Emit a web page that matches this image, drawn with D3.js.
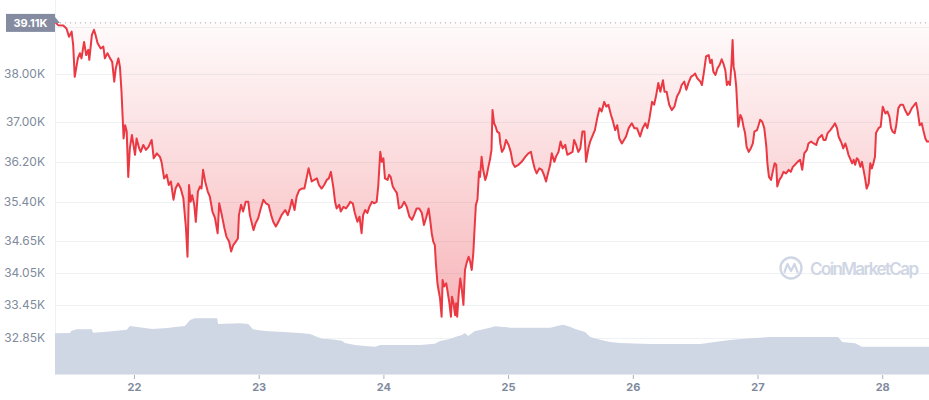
<!DOCTYPE html>
<html>
<head>
<meta charset="utf-8">
<script src="https://cdn.jsdelivr.net/npm/d3@7"></script>
<style>
  body { margin: 0; background: #fff; }
  svg { display: block; font-family: Inter, "Noto Sans", sans-serif; }
</style>
</head>
<body>
<div id="chart"></div>
<script>
// BTC price, 7 days from 21 Jan 2022; time is hours since 21 Jan 00:00
const startDay = new Date(2022, 0, 21);

const hours = [
  8.8, 9.4, 10.4, 11.0, 11.5, 12.0, 12.3, 12.6, 13.2, 13.6,
  13.9, 14.4, 14.8, 15.2, 15.4, 15.9, 16.3, 16.6, 17.0, 17.6,
  18.1, 18.4, 18.9, 19.4, 19.8, 20.2, 20.5, 21.0, 21.3, 21.6,
  21.8, 22.0, 22.3, 22.6, 22.9, 23.2, 23.6, 23.9, 24.2, 24.5,
  25.0, 25.3, 25.8, 26.3, 26.8, 27.4, 27.8, 28.4, 29.0, 29.3,
  29.8, 30.3, 30.7, 31.1, 31.6, 32.0, 32.5, 33.0, 33.5, 34.0,
  34.3, 34.6, 34.9, 35.2, 35.6, 35.9, 36.3, 36.7, 37.0, 37.3,
  37.7, 38.2, 38.6, 39.1, 39.6, 40.1, 40.4, 40.9, 41.4, 41.8,
  42.3, 42.7, 43.1, 43.6, 44.0, 44.2, 44.6, 45.0, 45.5, 46.0,
  46.3, 47.0, 47.4, 47.9, 48.4, 48.9, 49.4, 49.9, 50.4, 50.8,
  51.3, 51.8, 52.4, 53.1, 53.6, 54.0, 54.4, 54.9, 55.3, 55.8,
  56.3, 56.8, 57.2, 57.6, 57.9, 58.2, 58.7, 59.2, 59.6, 60.1,
  60.6, 61.1, 61.5, 61.9, 62.4, 62.7, 63.0, 63.5, 63.8, 64.3,
  64.8, 65.3, 65.6, 66.1, 66.5, 67.0, 67.4, 67.8, 68.1, 68.5,
  68.9, 69.3, 69.8, 70.2, 70.7, 71.0, 71.4, 71.7, 72.0, 72.3,
  72.8, 73.1, 73.4, 73.8, 74.2, 74.6, 75.0, 75.5, 76.0, 76.5,
  77.0, 77.5, 77.9, 78.4, 78.9, 79.4, 79.8, 80.2, 80.7, 81.0,
  81.3, 81.6, 81.9, 82.1, 82.4, 82.6, 82.9, 83.2, 83.4, 83.7,
  84.1, 84.3, 84.7, 85.0, 85.2, 85.5, 85.8, 86.0, 86.2, 86.5,
  86.8, 87.1, 87.4, 87.7, 88.0, 88.4, 88.7, 89.0, 89.3, 89.6,
  89.8, 90.1, 90.4, 90.6, 90.9, 91.2, 91.6, 91.9, 92.2, 92.5,
  92.8, 93.0, 93.3, 93.6, 93.9, 94.3, 94.5, 94.8, 95.2, 95.6,
  96.1, 96.5, 96.9, 97.3, 98.0, 98.6, 99.3, 99.9, 100.4, 100.7,
  101.1, 101.5, 102.0, 102.5, 102.9, 103.3, 103.6, 104.1, 104.4, 104.9,
  105.2, 105.7, 106.1, 106.5, 107.0, 107.4, 107.9, 108.4, 108.7, 109.1,
  109.5, 109.9, 110.3, 110.7, 111.0, 111.5, 111.8, 112.3, 112.7, 113.2,
  113.6, 114.0, 114.5, 114.9, 115.3, 115.8, 116.1, 116.6, 117.0, 117.4,
  117.9, 118.3, 118.7, 119.2, 119.8, 120.3, 120.8, 121.4, 121.9, 122.4,
  122.8, 123.2, 123.7, 124.1, 124.5, 124.9, 125.3, 125.8, 126.1, 126.5,
  127.0, 127.5, 128.0, 128.5, 129.0, 129.4, 129.9, 130.3, 130.7, 131.2,
  131.7, 132.0, 132.4, 133.0, 133.3, 133.7, 134.1, 134.6, 134.9, 135.2,
  135.5, 135.9, 136.3, 136.7, 137.1, 137.4, 137.8, 138.1, 138.4, 138.7,
  139.0, 139.2, 139.4, 139.6, 139.9, 140.1, 140.3, 140.7, 141.0, 141.3,
  141.6, 141.9, 142.3, 142.7, 143.1, 143.4, 143.9, 144.2, 144.5, 144.9,
  145.3, 145.7, 145.9, 146.2, 146.6, 147.0, 147.3, 147.6, 147.8, 148.2,
  148.6, 149.0, 149.5, 150.0, 150.4, 150.8, 151.2, 151.7, 152.2, 152.6,
  153.0, 153.5, 153.8, 154.3, 154.8, 155.3, 155.7, 156.1, 156.4, 156.7,
  157.1, 157.5, 158.0, 158.5, 158.9, 159.3, 159.6, 159.9, 160.2, 160.5,
  160.9, 161.2, 161.5, 161.8, 162.2, 162.5, 162.8, 163.1, 163.4, 163.8,
  164.1, 164.4, 164.7, 165.0, 165.4, 165.7, 166.0, 166.3, 166.6, 166.8,
  167.3, 167.7, 168.1, 168.6, 169.0, 169.4, 169.7, 170.0, 170.4, 170.7,
  171.1, 171.5, 172.0, 172.4, 172.9, 173.2, 173.7, 174.2, 174.5, 174.8,
  175.2, 175.6, 175.9, 176.3, 176.6, 177.0
];

// price in thousands of USD
const price = [
  39.11, 39.04, 39.03, 38.97, 38.79, 38.90, 38.61, 37.94, 38.33, 38.44,
  38.33, 38.68, 38.40, 38.51, 38.30, 38.83, 38.94, 38.83, 38.65, 38.54,
  38.58, 38.33, 38.44, 38.33, 38.26, 37.84, 38.12, 38.33, 38.15, 37.63,
  37.15, 36.67, 36.94, 36.81, 35.90, 36.47, 36.74, 36.54, 36.34, 36.67,
  36.47, 36.40, 36.54, 36.44, 36.50, 36.64, 36.27, 36.37, 36.30, 36.20,
  35.87, 35.94, 35.74, 35.81, 35.45, 35.67, 35.77, 35.67, 35.48, 34.90,
  34.35, 35.74, 35.41, 35.54, 35.35, 35.02, 35.61, 35.71, 35.67, 36.04,
  35.81, 35.61, 35.51, 35.22, 35.09, 34.80, 35.38, 35.15, 34.90, 34.73,
  34.64, 34.45, 34.57, 34.64, 34.70, 35.15, 35.35, 35.22, 35.41, 35.41,
  35.15, 34.86, 34.99, 35.09, 35.28, 35.45, 35.38, 35.35, 35.15, 35.02,
  34.93, 35.02, 35.15, 35.25, 35.15, 35.28, 35.45, 35.25, 35.51, 35.64,
  35.67, 35.67, 35.87, 36.07, 35.94, 35.81, 35.84, 35.87, 35.74, 35.67,
  35.74, 35.84, 35.87, 36.00, 35.67, 35.41, 35.28, 35.35, 35.22, 35.31,
  35.28, 35.35, 35.41, 35.38, 35.19, 35.02, 35.12, 34.80, 35.15, 35.25,
  35.19, 35.31, 35.41, 35.38, 35.41, 35.71, 36.40, 36.20, 36.27, 35.87,
  35.84, 35.94, 35.90, 35.71, 35.64, 35.58, 35.28, 35.31, 35.41, 35.31,
  35.12, 35.06, 35.15, 35.28, 35.28, 35.19, 34.96, 35.09, 35.28, 35.06,
  34.80, 34.64, 34.57, 34.23, 33.85, 33.73, 33.57, 33.23, 33.91, 33.79,
  33.85, 33.73, 33.48, 33.23, 33.60, 33.48, 33.26, 33.48, 33.23, 33.66,
  33.94, 33.73, 33.45, 34.10, 34.23, 34.35, 34.26, 34.10, 34.42, 34.99,
  35.35, 35.45, 36.00, 35.90, 36.30, 36.04, 35.84, 35.94, 36.10, 36.24,
  36.44, 37.25, 36.98, 36.91, 36.81, 36.78, 36.57, 36.40, 36.47, 36.64,
  36.54, 36.40, 36.17, 36.10, 36.14, 36.20, 36.30, 36.37, 36.40, 36.24,
  36.07, 35.97, 36.07, 36.04, 35.94, 35.81, 35.94, 36.14, 36.37, 36.20,
  36.30, 36.40, 36.61, 36.47, 36.54, 36.34, 36.37, 36.40, 36.64, 36.54,
  36.40, 36.47, 36.81, 36.81, 36.20, 36.50, 36.61, 36.74, 36.84, 37.11,
  37.29, 37.22, 37.42, 37.32, 37.36, 37.15, 37.05, 36.84, 36.94, 36.67,
  36.57, 36.64, 36.71, 36.88, 36.98, 36.88, 36.88, 36.71, 36.88, 36.98,
  36.88, 37.08, 37.42, 37.36, 37.56, 37.81, 37.63, 37.87, 37.63, 37.63,
  37.36, 37.25, 37.32, 37.53, 37.63, 37.77, 37.84, 37.67, 37.81, 37.94,
  37.98, 38.01, 37.91, 37.84, 37.77, 38.05, 38.37, 38.40, 38.23, 38.30,
  38.05, 37.98, 38.12, 38.19, 38.31, 38.23, 38.08, 37.77, 37.84, 37.77,
  38.23, 38.72, 38.15, 38.05, 37.74, 37.32, 36.91, 37.15, 37.08, 36.91,
  36.78, 36.50, 36.40, 36.47, 36.57, 36.81, 36.84, 36.94, 37.05, 37.01,
  36.88, 36.50, 36.17, 35.90, 35.84, 36.04, 36.17, 36.14, 35.71, 35.84,
  35.90, 36.00, 35.97, 36.04, 36.00, 36.10, 36.14, 36.20, 36.24, 36.04,
  36.37, 36.44, 36.57, 36.61, 36.57, 36.54, 36.67, 36.71, 36.74, 36.64,
  36.64, 36.78, 36.84, 36.91, 36.98, 36.88, 36.71, 36.64, 36.57, 36.47,
  36.57, 36.47, 36.34, 36.27, 36.17, 36.24, 36.14, 36.27, 36.24, 36.10,
  36.20, 36.04, 35.87, 35.67, 35.77, 36.17, 36.07, 36.17, 36.30, 36.78,
  36.88, 36.91, 37.32, 37.18, 37.22, 37.11, 36.88, 36.81, 36.78, 36.94,
  37.29, 37.36, 37.36, 37.25, 37.15, 37.18, 37.29, 37.36, 37.40, 37.25,
  36.94, 36.98, 36.84, 36.67, 36.61, 36.61
];

// 24h volume, billions of USD
const volHours = [
  8.8, 11.7, 11.9, 13.0, 15.9, 16.1, 18.2, 20.7, 22.6, 23.2,
  26.1, 27.5, 30.5, 31.9, 33.8, 34.8, 35.7, 40.0, 40.2, 44.4,
  46.0, 46.9, 49.2, 53.6, 55.9, 57.9, 58.8, 60.2, 62.3, 64.0,
  64.6, 66.5, 68.5, 70.4, 71.4, 79.1, 81.9, 82.9, 84.8, 85.8,
  87.1, 87.7, 88.3, 89.6, 90.6, 92.5, 93.5, 94.5, 96.4, 104.1,
  105.6, 106.6, 107.9, 108.9, 110.8, 111.8, 113.7, 115.6, 117.5, 123.3,
  133.0, 135.8, 138.7, 142.6, 146.4, 159.5, 160.3, 162.8, 164.1, 177.0
];
const volume = [
  26.0, 26.2, 27.4, 28.5, 28.5, 26.4, 26.8, 27.6, 28.3, 30.6,
  29.4, 28.7, 29.4, 30.0, 30.6, 34.5, 35.6, 35.6, 31.9, 32.4,
  31.9, 28.5, 27.4, 26.6, 26.2, 25.5, 24.3, 22.5, 22.1, 21.3,
  19.8, 18.5, 17.9, 17.4, 18.5, 18.5, 19.3, 21.1, 22.3, 23.6,
  24.9, 26.2, 24.3, 27.4, 28.1, 29.6, 30.4, 30.2, 29.6, 29.6,
  30.8, 31.5, 30.2, 28.7, 26.8, 23.6, 21.9, 20.4, 19.8, 19.1,
  19.1, 20.4, 21.7, 22.8, 23.6, 23.6, 20.4, 19.6, 17.4, 17.4
];

// log axis: gridlines, and the labels shown (39.00K sits under the open price tag)
const yGrid = [39, 38, 37, 36.2, 35.4, 34.65, 34.05, 33.45, 32.85];
const yLabels = [38, 37, 36.2, 35.4, 34.65, 34.05, 33.45, 32.85];

const width = 929, height = 400;
const plot = {left: 55, right: 929, top: 0, bottom: 374};

const toDate = h => new Date(startDay.getTime() + h * 3600e3);
const priceData = d3.zip(hours, price).map(([h, p]) => ({t: toDate(h), p}));
const volData = d3.zip(volHours, volume).map(([h, v]) => ({t: toDate(h), v}));

const x = d3.scaleTime()
  .domain([toDate(hours[0]), toDate(hours[hours.length - 1])])
  .range([plot.left, plot.right]);
const y = d3.scaleLog()
  .domain([32.196, 39.586])
  .range([plot.bottom, plot.top]);
const yVol = d3.scaleLinear()
  .domain([0, 60])
  .range([plot.bottom, 280]);

const svg = d3.select("#chart").append("svg")
  .attr("width", width)
  .attr("height", height);

const defs = svg.append("defs");
const grad = defs.append("linearGradient")
  .attr("id", "redFill")
  .attr("gradientUnits", "userSpaceOnUse")
  .attr("x1", 0).attr("x2", 0)
  .attr("y1", y(price[0])).attr("y2", y(33.1));
grad.append("stop").attr("offset", 0).attr("stop-color", "#ea3943").attr("stop-opacity", 0.02);
grad.append("stop").attr("offset", 1).attr("stop-color", "#ea3943").attr("stop-opacity", 0.38);

// grid
svg.append("g")
  .selectAll("line")
  .data(yGrid)
  .join("line")
  .attr("x1", plot.left).attr("x2", plot.right)
  .attr("y1", d => Math.round(y(d)) + 0.5).attr("y2", d => Math.round(y(d)) + 0.5)
  .attr("stroke", "#eff2f5");

svg.append("g")
  .selectAll("text")
  .data(yLabels)
  .join("text")
  .attr("x", 45)
  .attr("y", d => y(d))
  .attr("dy", "0.35em")
  .attr("text-anchor", "end")
  .attr("fill", "#808a9d")
  .attr("font-size", 12)
  .text(d => d3.format(".2f")(d) + "K");

// left border
svg.append("line")
  .attr("x1", plot.left + 0.5).attr("x2", plot.left + 0.5)
  .attr("y1", 0).attr("y2", plot.bottom)
  .attr("stroke", "#eff2f5");

// volume
svg.append("path")
  .datum(volData)
  .attr("fill", "#cfd6e4")
  .attr("d", d3.area()
    .x(d => x(d.t))
    .y0(plot.bottom)
    .y1(d => yVol(d.v)));

// red area between open price and line
svg.append("path")
  .datum(priceData)
  .attr("fill", "url(#redFill)")
  .attr("d", d3.area()
    .x(d => x(d.t))
    .y0(y(price[0]))
    .y1(d => y(d.p)));

// open price dotted line
svg.append("line")
  .attr("x1", plot.left).attr("x2", plot.right)
  .attr("y1", y(price[0]) + 1).attr("y2", y(price[0]) + 1)
  .attr("stroke", "#a1a7bb")
  .attr("stroke-dasharray", "1,4");

// price line
svg.append("path")
  .datum(priceData)
  .attr("fill", "none")
  .attr("stroke", "#ea3943")
  .attr("stroke-width", 2)
  .attr("stroke-linejoin", "round")
  .attr("d", d3.line()
    .x(d => x(d.t))
    .y(d => y(d.p)));

// x axis
const xAxis = svg.append("g")
  .attr("transform", `translate(0,${plot.bottom})`)
  .call(d3.axisBottom(x)
    .ticks(d3.timeDay.every(1))
    .tickFormat(d3.timeFormat("%-d"))
    .tickSize(4)
    .tickPadding(5));
xAxis.select(".domain").attr("stroke", "#e6e9ee").attr("d", `M${plot.left},0.5H${plot.right}`);
xAxis.selectAll(".tick line").attr("stroke", "#a6b0c3").attr("transform", "translate(0,1)");
xAxis.selectAll(".tick text")
  .attr("fill", "#808a9d")
  .attr("font-size", 11)
  .attr("font-weight", 700)
  .attr("font-family", "Inter, sans-serif");

// open price label
const labelY = y(price[0]) + 1;
svg.append("rect")
  .attr("x", 6).attr("y", labelY - 9)
  .attr("width", 49).attr("height", 18)
  .attr("fill", "#858ca2");
svg.append("path")
  .attr("d", `M55,${labelY - 6}L60,${labelY}L55,${labelY}Z`)
  .attr("fill", "#858ca2");
svg.append("text")
  .attr("x", 30.5).attr("y", labelY)
  .attr("dy", "0.35em")
  .attr("text-anchor", "middle")
  .attr("fill", "#fff")
  .attr("font-size", 11)
  .attr("font-weight", 700)
  .text(d3.format(".2f")(price[0]) + "K");

// watermark
const wm = svg.append("g").attr("transform", "translate(791,268)");
wm.append("circle").attr("r", 10.5).attr("fill", "none").attr("stroke", "#cfd6e4").attr("stroke-width", 2.4);
wm.append("path")
  .attr("d", "M-6.5,4 L-3.5,-4 L0,3 L3.5,-4 L6.5,4")
  .attr("fill", "none").attr("stroke", "#cfd6e4").attr("stroke-width", 2.2)
  .attr("stroke-linejoin", "round").attr("stroke-linecap", "round");
svg.append("text")
  .attr("x", 810).attr("y", 275)
  .attr("fill", "#cfd6e4")
  .attr("font-size", 17)
  .attr("font-weight", 600)
  .attr("textLength", 109)
  .text("CoinMarketCap");
</script>
</body>
</html>
